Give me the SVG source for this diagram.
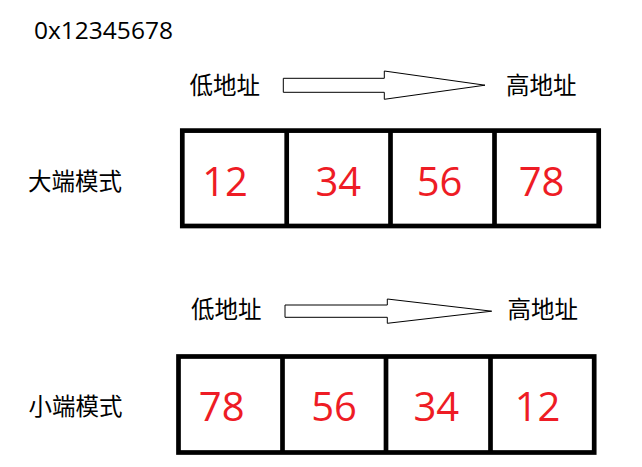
<svg xmlns="http://www.w3.org/2000/svg" width="642" height="467" viewBox="0 0 642 467">
<style>
.lbl{font-family:"Noto Sans CJK SC","Noto Sans",sans-serif;font-size:23.5px;fill:#000}
.num{font-family:"Open Sans","Noto Sans",sans-serif;font-size:40px;fill:#ee1c25;text-anchor:middle}
.box{fill:#fff;stroke:#000;stroke-width:4.7}
.div{stroke:#000;stroke-width:4.7}
.arr{fill:#fff;stroke:#000;stroke-width:1}
</style>
<rect width="642" height="467" fill="#fff"/>
<text id="title" x="34" y="38.7" style="font-family:'Open Sans','Noto Sans',sans-serif;font-size:24.5px;fill:#000">0x12345678</text>

<g id="big-endian">
  <text class="lbl" x="28" y="190">大端模式</text>
  <text class="lbl" x="189.5" y="93.5">低地址</text>
  <text class="lbl" x="506" y="93.5">高地址</text>
  <rect class="box" x="182.3" y="130.6" width="416.4" height="95.4"/>
  <line class="div" x1="286.7" y1="130.6" x2="286.7" y2="226"/>
  <line class="div" x1="390.5" y1="130.6" x2="390.5" y2="226"/>
  <line class="div" x1="494.5" y1="130.6" x2="494.5" y2="226"/>
  <text class="num" x="225" y="196">12</text>
  <text class="num" x="338.3" y="196">34</text>
  <text class="num" x="439.5" y="196">56</text>
  <text class="num" x="541.5" y="196">78</text>
</g>

<g id="little-endian">
  <text class="lbl" x="28.5" y="415">小端模式</text>
  <text class="lbl" x="191" y="318">低地址</text>
  <text class="lbl" x="507.5" y="318">高地址</text>
  <rect class="box" x="178.5" y="356.5" width="415.7" height="96"/>
  <line class="div" x1="282.5" y1="356.5" x2="282.5" y2="452.5"/>
  <line class="div" x1="386" y1="356.5" x2="386" y2="452.5"/>
  <line class="div" x1="490.5" y1="356.5" x2="490.5" y2="452.5"/>
  <text class="num" x="221.7" y="421">78</text>
  <text class="num" x="334" y="421">56</text>
  <text class="num" x="436.3" y="421">34</text>
  <text class="num" x="537.5" y="421">12</text>
</g>

<g id="connectors">
  <polygon class="arr" points="283.3,78.3 384.3,78.3 384.3,71 485,85.2 384.3,99.3 384.3,92.3 283.3,92.3"/>
  <polygon class="arr" points="285,305 387.3,305 387.3,299 491.7,311.2 387.3,323.3 387.3,317.3 285,317.3"/>
</g>
</svg>
